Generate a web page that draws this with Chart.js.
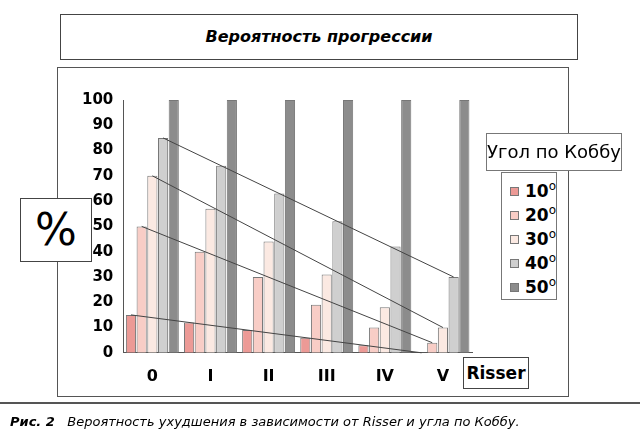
<!DOCTYPE html>
<html><head><meta charset="utf-8">
<script src="https://cdn.jsdelivr.net/npm/chart.js@4"></script>
<style>
body{margin:0;width:640px;height:444px;background:#fff;font-family:"DejaVu Sans",sans-serif;position:relative;overflow:hidden}
.box{position:absolute;border:1.5px solid #444;background:#fff}
#c{position:absolute;left:0;top:0}
</style></head><body>
<div class="box" style="left:60px;top:14px;width:516px;height:44px;text-align:center;font:italic bold 16px/44px 'DejaVu Sans';">Вероятность прогрессии</div>
<div class="box" style="left:57px;top:67px;width:510px;height:328px;border:1px solid #555"></div>
<canvas id="c" width="640" height="444"></canvas>
<div class="box" style="left:20px;top:198px;width:70px;height:62px;font:44px/62px 'DejaVu Sans';text-align:center">%</div>
<div class="box" style="left:486px;top:133px;width:134px;height:36px;font:18px/36px 'DejaVu Sans';text-align:center;border-color:#777">Угол по Коббу</div>
<div class="box" id="leg" style="left:501px;top:172px;width:54px;height:126px;border-color:#777;font:bold 17px 'DejaVu Sans'"></div>
<div class="box" style="left:463px;top:357px;width:64px;height:30px;font:bold 17px/30px 'DejaVu Sans';text-align:center">Risser</div>
<div style="position:absolute;left:0;top:402px;width:640px;height:1.5px;background:#555"></div>
<div style="position:absolute;left:10px;top:414px;font:italic 13px 'DejaVu Sans'"><b>Рис. 2</b>&nbsp;&nbsp; Вероятность ухудшения в зависимости от Risser и угла по Коббу.</div>
<script>
const categories = ['0', 'I', 'II', 'III', 'IV', 'V'];
const angles = ['10', '20', '30', '40', '50'];
const angle10 = [15, 12, 9, 6, 3, 0];
const angle20 = [50, 40, 30, 19, 10, 4];
const angle30 = [70, 57, 44, 31, 18, 10];
const angle40 = [85, 74, 63, 52, 42, 30];
const angle50 = [100, 100, 100, 100, 100, 100];
const yTicks = [0, 10, 20, 30, 40, 50, 60, 70, 80, 90, 100];
const colors = ['#ec9a96', '#f8cdc6', '#fbe9e2', '#cfcfcf', '#8c8c8c'];
const series = [angle10, angle20, angle30, angle40, angle50];

// legend
const leg = document.getElementById('leg');
angles.forEach((a, i) => {
  leg.innerHTML += `<div style="height:24px;line-height:26px;padding-left:8px"><span style="display:inline-block;width:7px;height:7px;border:1px solid #777;background:${colors[i]};margin-right:6px;vertical-align:middle"></span>${a}<sup style="font-size:12px;font-weight:normal">o</sup></div>`;
});

// trend lines across each series
const trendLines = {
  id: 'trendLines',
  afterDatasetsDraw(chart) {
    const ctx = chart.ctx;
    ctx.save();
    ctx.strokeStyle = '#444';
    ctx.lineWidth = 1;
    chart.data.datasets.forEach((ds, i) => {
      if (i === 4) return;
      const bars = chart.getDatasetMeta(i).data;
      ctx.beginPath();
      ctx.moveTo(bars[0].x, bars[0].y);
      ctx.lineTo(bars[bars.length - 1].x, bars[bars.length - 1].y);
      ctx.stroke();
    });
    ctx.restore();
  }
};

new Chart(document.getElementById('c'), {
  type: 'bar',
  data: {
    labels: categories,
    datasets: series.map((d, i) => ({
      label: angles[i],
      data: d,
      backgroundColor: colors[i],
      borderColor: '#777',
      borderWidth: 1,
      categoryPercentage: 0.92,
      barPercentage: 0.95,
    })),
  },
  options: {
    responsive: false,
    animation: false,
    layout: { padding: { left: 80, top: 100, right: 168, bottom: 52 } },
    plugins: { legend: { display: false }, tooltip: { enabled: false } },
    scales: {
      y: {
        min: 0, max: 100,
        afterBuildTicks: ax => { ax.ticks = yTicks.map(v => ({ value: v })); },
        ticks: { color: '#000', padding: 2, font: { family: 'DejaVu Sans', size: 15, weight: 'bold' } },
        grid: { display: false },
        border: { color: '#555' },
      },
      x: {
        ticks: { color: '#000', font: { family: 'DejaVu Sans', size: 16, weight: 'bold' }, padding: 6 },
        grid: { display: false },
        border: { color: '#555' },
      },
    },
  },
  plugins: [trendLines],
});
</script>
</body></html>
